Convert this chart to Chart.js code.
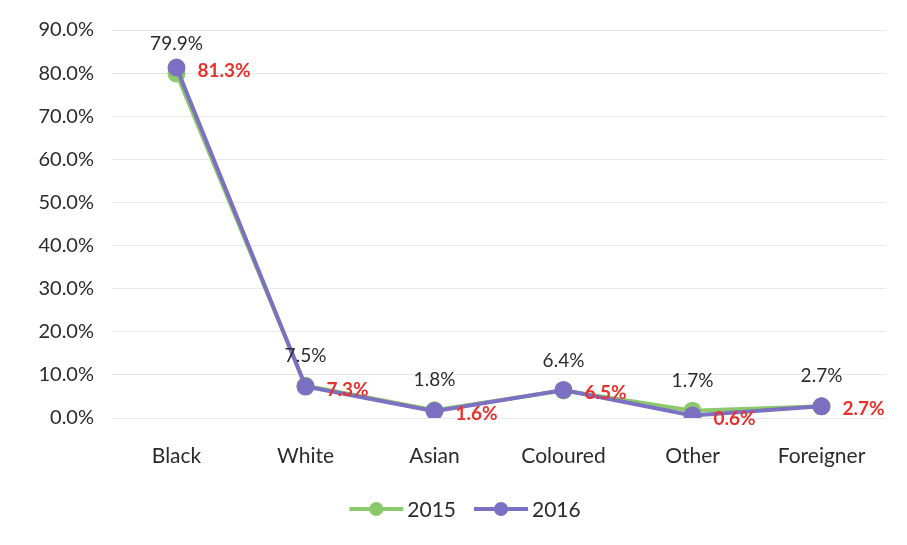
<!DOCTYPE html>
<html>
<head>
<meta charset="utf-8">
<script src="https://cdn.jsdelivr.net/npm/chart.js@4"></script>
<style>
  html, body { margin: 0; padding: 0; background: #fff; }
  #wrap { width: 907px; height: 545px; }
</style>
</head>
<body>
<div id="wrap"><canvas id="chart" width="907" height="545"></canvas></div>
<script>
// ---- data ----
const categories = ['Black', 'White', 'Asian', 'Coloured', 'Other', 'Foreigner'];
const values2015 = [79.9, 7.5, 1.8, 6.4, 1.7, 2.7];
const values2016 = [81.3, 7.3, 1.6, 6.5, 0.6, 2.7];
const seriesNames = ['2015', '2016'];
const yMin = 0, yMax = 90, yStep = 10;

const GREEN = '#8cc96a';
const PURPLE = '#7b70c2';
const TEXT = '#2b2b2b';
const FONT = 'Lato, "Open Sans", sans-serif';

// value labels: 2015 above the point, 2016 to the right in red
const valueLabels = {
    id: 'valueLabels',
    afterDatasetsDraw(chart) {
        const ctx = chart.ctx;
        ctx.save();
        ctx.font = '19px ' + FONT;
        ctx.textBaseline = 'middle';

        const m0 = chart.getDatasetMeta(0);
        ctx.fillStyle = TEXT;
        ctx.textAlign = 'center';
        m0.data.forEach((pt, i) => {
            ctx.fillText(values2015[i].toFixed(1) + '%', pt.x, pt.y - 30);
        });

        const m1 = chart.getDatasetMeta(1);
        ctx.fillStyle = '#e8322e';
        ctx.font = 'bold 19px ' + FONT;
        ctx.textAlign = 'left';
        m1.data.forEach((pt, i) => {
            ctx.fillText(values2016[i].toFixed(1) + '%', pt.x + 21, pt.y + 3);
        });
        ctx.restore();
    }
};

// legend: line with a dot, then the series name; centred a bit left of the plot
const lineLegend = {
    id: 'lineLegend',
    afterDraw(chart) {
        const ctx = chart.ctx;
        const colors = [GREEN, PURPLE];
        const markW = 54, gap = 4, itemGap = 18;
        ctx.save();
        ctx.font = '21px ' + FONT;
        ctx.textBaseline = 'middle';
        ctx.textAlign = 'left';
        const widths = seriesNames.map(s => markW + gap + ctx.measureText(s).width);
        const total = widths.reduce((a, b) => a + b, 0) + itemGap * (widths.length - 1);
        let x = 465 - total / 2;
        const y = 509;
        seriesNames.forEach((name, i) => {
            ctx.strokeStyle = colors[i];
            ctx.fillStyle = colors[i];
            ctx.lineWidth = 4;
            ctx.beginPath(); ctx.moveTo(x, y); ctx.lineTo(x + markW, y); ctx.stroke();
            ctx.beginPath(); ctx.arc(x + markW / 2, y, 7, 0, Math.PI * 2); ctx.fill();
            ctx.fillStyle = TEXT;
            ctx.fillText(name, x + markW + gap, y + 1);
            x += widths[i] + itemGap;
        });
        ctx.restore();
    }
};

new Chart(document.getElementById('chart'), {
    type: 'line',
    data: {
        labels: categories,
        datasets: [
            {
                label: seriesNames[0],
                data: values2015,
                order: 1,
                borderColor: GREEN,
                backgroundColor: GREEN,
                borderWidth: 4,
                pointRadius: 7,
                pointHoverRadius: 7,
                tension: 0
            },
            {
                label: seriesNames[1],
                data: values2016,
                order: 0,
                borderColor: PURPLE,
                backgroundColor: PURPLE,
                borderWidth: 4,
                pointRadius: 7,
                pointHoverRadius: 7,
                tension: 0
            }
        ]
    },
    options: {
        responsive: false,
        animation: false,
        layout: { padding: { top: 30, right: 21, bottom: 62, left: 0 } },
        plugins: {
            tooltip: { enabled: false },
            legend: { display: false }
        },
        scales: {
            x: {
                offset: true,
                grid: { display: false, drawTicks: false },
                border: { display: false },
                ticks: {
                    color: TEXT,
                    padding: 26,
                    font: { family: FONT, size: 21 }
                },
                afterFit(scale) { scale.height = 65; }
            },
            y: {
                min: yMin,
                max: yMax,
                grid: { color: '#e8e8e8', drawTicks: false },
                border: { display: false },
                ticks: {
                    stepSize: yStep,
                    color: TEXT,
                    padding: 18,
                    font: { family: FONT, size: 20 },
                    callback: v => v.toFixed(1) + '%'
                },
                afterFit(scale) { scale.width = 112; }
            }
        }
    },
    plugins: [valueLabels, lineLegend]
});
</script>
</body>
</html>
